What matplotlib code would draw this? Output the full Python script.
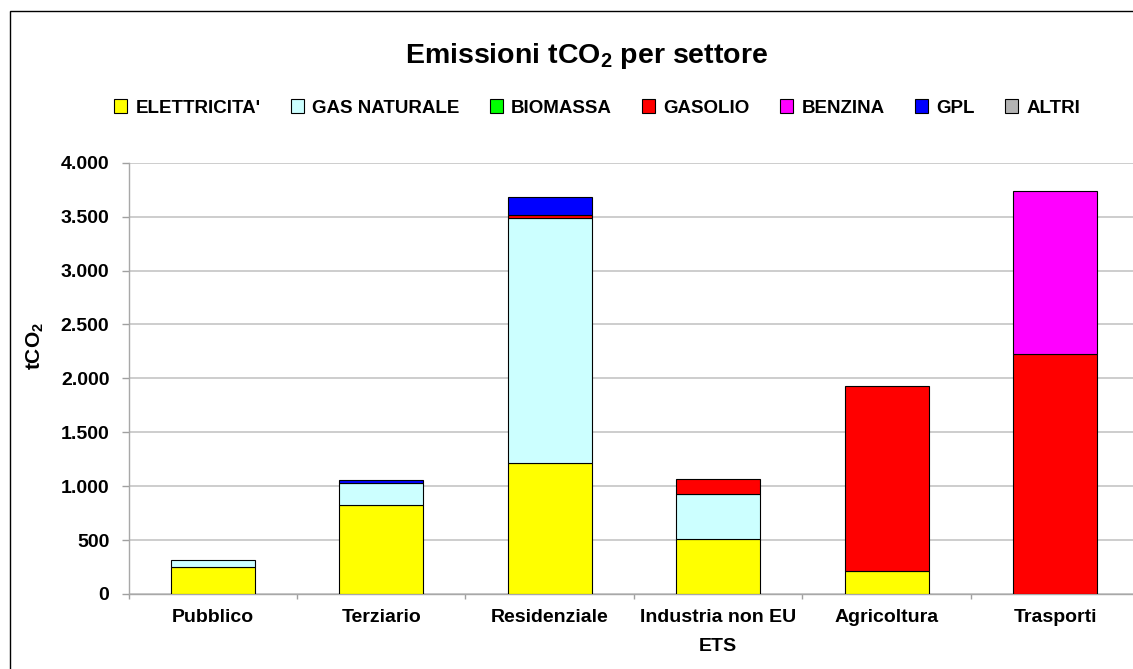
import matplotlib
matplotlib.use('Agg')
import matplotlib.pyplot as plt
import numpy as np
from matplotlib.patches import Rectangle

plt.rcParams['font.family'] = ['Liberation Sans', 'DejaVu Sans']
plt.rcParams['mathtext.default'] = 'regular'

# dati (tCO2)
settori = ['Pubblico', 'Terziario', 'Residenziale', 'Industria non EU\nETS', 'Agricoltura', 'Trasporti']
elettricita = [248, 826, 1212, 513, 211, 0]
gas_naturale = [67, 201, 2273, 412, 0, 0]
biomassa = [0, 0, 0, 0, 0, 0]
gasolio = [0, 0, 31, 139, 1716, 2224]
benzina = [0, 0, 0, 0, 0, 1512]
gpl = [0, 33, 170, 0, 0, 0]
altri = [0, 0, 0, 0, 0, 0]

serie = [
    ("ELETTRICITA'", elettricita, '#ffff00'),
    ('GAS NATURALE', gas_naturale, '#ccffff'),
    ('BIOMASSA', biomassa, '#00ff00'),
    ('GASOLIO', gasolio, '#ff0000'),
    ('BENZINA', benzina, '#ff00ff'),
    ('GPL', gpl, '#0000ff'),
    ('ALTRI', altri, '#b3b3b3'),
]

W, H = 1133, 669
fig = plt.figure(figsize=(W / 100, H / 100), dpi=100)

# bordo del grafico (tagliato a destra e in basso)
fig.patches.append(Rectangle((10 / W, -0.1), 1.2, 1.1 - 11 / H, transform=fig.transFigure,
                             fill=False, edgecolor='black', linewidth=1.0))

ax = fig.add_axes([128.5 / W, (H - 594) / H, 1011 / W, (594 - 162.7) / H])

x = np.arange(len(settori))
bottom = np.zeros(len(settori))
for nome, vals, col in serie:
    vals = np.array(vals, dtype=float)
    lw = [0.8 if v > 0 else 0 for v in vals]
    ax.bar(x, vals, 0.5, bottom=bottom, color=col, edgecolor='black', linewidth=lw,
           label=nome, zorder=3)
    bottom += vals

ax.set_xlim(-0.5, len(settori) - 0.5)
ax.set_ylim(0, 4000)
yt = np.arange(0, 4001, 500)
ax.set_yticks(yt)
ax.set_yticklabels([f'{v:,.0f}'.replace(',', '.') for v in yt], fontsize=14, fontweight='bold')
ax.yaxis.grid(True, color='#c0c0c0', linewidth=1.1, zorder=0)

ax.set_xticks(np.arange(-0.5, len(settori) - 0.4, 1.0))
ax.set_xticklabels([])
ax.set_xticks(x, minor=True)
ax.set_xticklabels(settori, minor=True, fontsize=14, fontweight='bold', linespacing=1.9)
ax.tick_params(axis='x', which='minor', length=0, pad=11)
ax.tick_params(axis='x', which='major', length=3.8, color='#a0a0a0', width=1)
ax.tick_params(axis='y', length=4.7, color='#a0a0a0', width=1, pad=9)

for s in ['top', 'right']:
    ax.spines[s].set_visible(False)
for s in ['left', 'bottom']:
    ax.spines[s].set_color('#a8a8a8')
    ax.spines[s].set_linewidth(1.0)

fig.text(586.7 / W, 1 - 63.3 / H, 'Emissioni tCO$_2$ per settore', ha='center', va='baseline',
         fontsize=20.5, fontweight='bold')
fig.text(35 / W, 1 - 346 / H, 'tCO$_2$', rotation=90, ha='center', va='center',
         fontsize=15, fontweight='bold')

handles, labels = ax.get_legend_handles_labels()
leg = fig.legend(handles, labels, loc='center', bbox_to_anchor=(597 / W, 1 - 108 / H), ncol=7,
                 frameon=False, prop={'size': 13.5, 'weight': 'bold'}, handlelength=0.7,
                 handleheight=0.7, handletextpad=0.45, columnspacing=1.6)
for h in leg.legend_handles:
    h.set_linewidth(0.8)
    h.set_edgecolor('black')

fig.savefig('out.png', dpi=100)
